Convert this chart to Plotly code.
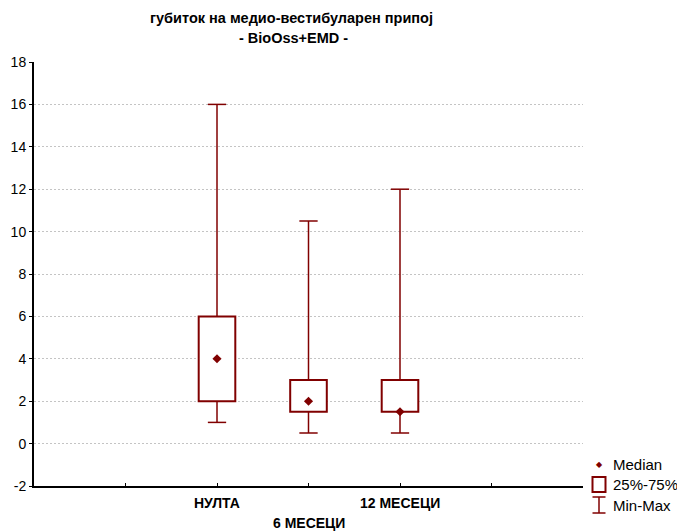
import plotly.graph_objects as go

# ---- data ----
categories = ["НУЛТА", "6 МЕСЕЦИ", "12 МЕСЕЦИ"]
mins = [1.0, 0.5, 0.5]
q1 = [2.0, 1.5, 1.5]
medians = [4.0, 2.0, 1.5]
q3 = [6.0, 3.0, 3.0]
maxs = [16.0, 10.5, 12.0]
y_ticks = list(range(-2, 19, 2))
y_tick_labels = [str(v) for v in y_ticks]

title_l1 = "губиток на медио-вестибуларен припој"
title_l2 = "- BioOss+EMD -"
legend_labels = ["Median", "25%-75%", "Min-Max"]

# ---- styling ----
RED = "#800000"
FONT = "Liberation Sans"
BOX_W = 0.4
CAP_W = 0.2

pos = [i + 2 for i in range(len(categories))]
x_range = [0, len(categories) + 3]

fig = go.Figure()

# boxes (25%-75%)
fig.add_trace(go.Bar(
    x=pos, base=q1, y=[b - a for a, b in zip(q1, q3)], width=BOX_W,
    marker=dict(color="white", line=dict(color=RED, width=2)),
    showlegend=False, hoverinfo="skip",
))

# whiskers (min-max)
wx, wy = [], []
for p, lo, a, b, hi in zip(pos, mins, q1, q3, maxs):
    wx += [p, p, None, p, p, None, p - CAP_W / 2, p + CAP_W / 2, None, p - CAP_W / 2, p + CAP_W / 2, None]
    wy += [b, hi, None, lo, a, None, hi, hi, None, lo, lo, None]
fig.add_trace(go.Scatter(x=wx, y=wy, mode="lines", line=dict(color=RED, width=1.5),
                         showlegend=False, hoverinfo="skip"))

# medians
fig.add_trace(go.Scatter(x=pos, y=medians, mode="markers",
                         marker=dict(symbol="diamond", size=7, color=RED),
                         showlegend=False, hoverinfo="skip"))

# ---- layout ----
L, R, T, B = 34, 583, 62, 486
W, H = 677, 532
def px_x(px):
    return (px - L) / (R - L)
def px_y(py):
    return (B - py) / (B - T)

annotations = [
    dict(text=f"<b>{title_l1}</b>", x=px_x(291), y=px_y(18), xref="paper", yref="paper",
         showarrow=False, font=dict(family=FONT, size=14.5, color="black"), xanchor="center", yanchor="middle"),
    dict(text=f"<b>{title_l2}</b>", x=px_x(293), y=px_y(38), xref="paper", yref="paper",
         showarrow=False, font=dict(family=FONT, size=14.5, color="black"), xanchor="center", yanchor="middle"),
]
for i, (p, c) in enumerate(zip(pos, categories)):
    annotations.append(dict(text=f"<b>{c}</b>", x=p, xref="x", y=px_y(503 if i % 2 == 0 else 523), yref="paper",
                            showarrow=False, font=dict(family=FONT, size=14, color="black"),
                            xanchor="center", yanchor="middle"))

# custom legend
leg_rows = [464, 484.5, 505]
sx = 599
for lab, ry in zip(legend_labels, leg_rows):
    annotations.append(dict(text=lab, x=px_x(611), y=px_y(ry), xref="paper", yref="paper",
                            showarrow=False, font=dict(family=FONT, size=15, color="black"),
                            xanchor="left", yanchor="middle"))
annotations.append(dict(text="◆", x=px_x(sx), y=px_y(leg_rows[0]), xref="paper", yref="paper",
                        showarrow=False, font=dict(family="DejaVu Sans", size=8, color=RED),
                        xanchor="center", yanchor="middle"))
shapes = [
    dict(type="rect", xref="paper", yref="paper", x0=px_x(sx - 6.5), x1=px_x(sx + 6.5),
         y0=px_y(leg_rows[1] + 7.5), y1=px_y(leg_rows[1] - 7.5), line=dict(color=RED, width=2),
         fillcolor="white"),
    dict(type="line", xref="paper", yref="paper", x0=px_x(sx), x1=px_x(sx),
         y0=px_y(leg_rows[2] - 8), y1=px_y(leg_rows[2] + 8), line=dict(color=RED, width=1.5)),
    dict(type="line", xref="paper", yref="paper", x0=px_x(sx - 6.5), x1=px_x(sx + 6.5),
         y0=px_y(leg_rows[2] - 8), y1=px_y(leg_rows[2] - 8), line=dict(color=RED, width=1.5)),
    dict(type="line", xref="paper", yref="paper", x0=px_x(sx - 6.5), x1=px_x(sx + 6.5),
         y0=px_y(leg_rows[2] + 8), y1=px_y(leg_rows[2] + 8), line=dict(color=RED, width=1.5)),
]

fig.update_layout(
    width=W, height=H,
    margin=dict(l=L, r=W - R, t=T, b=H - B, pad=0),
    paper_bgcolor="white", plot_bgcolor="white",
    showlegend=False,
    font=dict(family=FONT, size=14, color="black"),
    annotations=annotations, shapes=shapes,
    xaxis=dict(range=x_range, tickvals=list(range(x_range[0], x_range[1] + 1)), showticklabels=False,
               ticks="inside", ticklen=3, tickcolor="black", showgrid=False, zeroline=False,
               showline=True, linecolor="black", linewidth=2),
    xaxis2=dict(range=x_range, overlaying="x", side="top", anchor="y",
                tickvals=list(range(x_range[0], x_range[1] + 1)), showticklabels=False,
                ticks="inside", ticklen=3, tickcolor="black", showgrid=False, zeroline=False,
                showline=True, linecolor="black", linewidth=1.5),
    yaxis=dict(range=[y_ticks[0], y_ticks[-1]], tickvals=y_ticks, ticktext=y_tick_labels,
               ticks="outside", ticklen=3,
               tickcolor="black", tickfont=dict(family=FONT, size=14, color="black"),
               showgrid=True, gridcolor="#c4c4c4", gridwidth=1, griddash="2px,2px",
               zeroline=False, showline=True, linecolor="black", linewidth=2),
    yaxis2=dict(range=[y_ticks[0], y_ticks[-1]], overlaying="y", side="right", anchor="x",
                tickvals=y_ticks, showticklabels=False, ticks="inside", ticklen=3, tickcolor="black",
                showgrid=False, zeroline=False, showline=True, linecolor="black", linewidth=1.5),
)

fig.write_html("out.html")
